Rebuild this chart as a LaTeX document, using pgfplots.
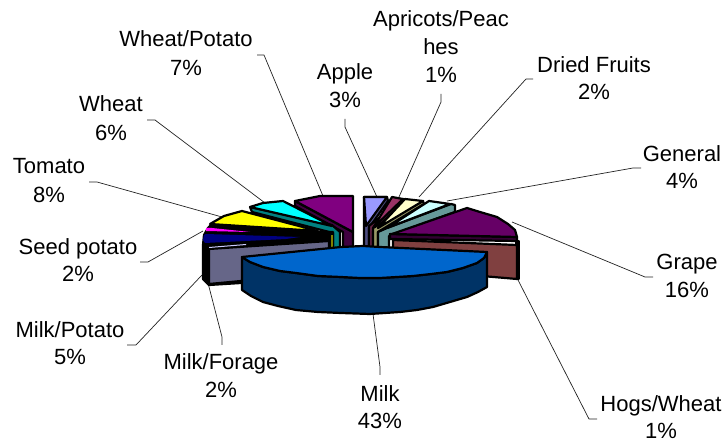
\documentclass[border=0pt]{standalone}
\usepackage{pgfplots}
\usepackage{fontspec}
\setmainfont{Liberation Sans}
\pgfplotsset{compat=1.18}
\definecolor{wpTop}{HTML}{800080}
\definecolor{wpSide}{HTML}{400040}
\definecolor{appleTop}{HTML}{9999FF}
\definecolor{appleSide}{HTML}{4D4D80}
\definecolor{apriTop}{HTML}{993366}
\definecolor{apriSide}{HTML}{662244}
\definecolor{driedTop}{HTML}{FFFFCC}
\definecolor{driedSide}{HTML}{999966}
\definecolor{genTop}{HTML}{CCFFFF}
\definecolor{genSide}{HTML}{669999}
\definecolor{wheatTop}{HTML}{00FFFF}
\definecolor{wheatSide}{HTML}{008080}
\definecolor{tomatoTop}{HTML}{FFFF00}
\definecolor{tomatoSide}{HTML}{808000}
\definecolor{seedTop}{HTML}{FF00FF}
\definecolor{potatoTop}{HTML}{000080}
\definecolor{grapeTop}{HTML}{660066}
\definecolor{grapeSide}{HTML}{330033}
\definecolor{hogs}{HTML}{804040}
\definecolor{forage}{HTML}{666688}
\definecolor{forageEdge}{HTML}{CCCCFF}
\definecolor{milkTop}{HTML}{0066CC}
\definecolor{milkSide}{HTML}{003366}
\definecolor{leader}{HTML}{222222}
% one label line, centred on x with its baseline at y
\newcommand{\lab}[3]{\node[anchor=base,inner sep=0pt] at (axis cs:#1,#2) {#3};}
\begin{document}
\begin{tikzpicture}
\begin{axis}[
  scale only axis, width=724pt, height=443pt,
  xmin=0, xmax=724, ymin=0, ymax=443, y dir=reverse,
  hide axis, clip=false,
  every axis plot/.append style={no markers, line join=round, line width=2.2pt, draw=black},
  leadline/.style={line width=0.7pt, draw=leader, fill=none},
]
\path (axis cs:0,0) rectangle (axis cs:724,443);
% leader lines
\addplot[leadline] coordinates {(345,119) (345,127) (377,197)};
\addplot[leadline] coordinates {(441,94) (441,102) (399,197)};
\addplot[leadline] coordinates {(533,79) (526,79) (419,197)};
\addplot[leadline] coordinates {(641,168) (633,168) (447,201)};
\addplot[leadline] coordinates {(653,277) (645,277) (512,222)};
\addplot[leadline] coordinates {(597,419) (589,419) (518,280)};
\addplot[leadline] coordinates {(380,375) (380,367) (373,314)};
\addplot[leadline] coordinates {(222,345) (222,337) (208,283)};
\addplot[leadline] coordinates {(127,345) (136,345) (202,275)};
\addplot[leadline] coordinates {(140,262) (148,262) (203,231)};
\addplot[leadline] coordinates {(89,182) (97,182) (222,217)};
\addplot[leadline] coordinates {(147,120) (155,120) (265,203)};
\addplot[leadline] coordinates {(257,55) (264,55) (323,196)};
% Wheat/Potato
\addplot[fill=wpSide] coordinates {(295,201) (295,206) (343,232) (343,250) (353,250) (353,232)} -- cycle;
\addplot[fill=wpTop] coordinates {(295,201) (320,196) (353,196) (353,232)} -- cycle;
% Apple
\addplot[fill=appleSide] coordinates {(387,197) (388,201) (369,228) (369,250) (364,250) (364,197)} -- cycle;
\addplot[fill=appleTop] coordinates {(364,197) (387,197) (366,226)} -- cycle;
% Apricots/Peaches
\addplot[fill=apriSide] coordinates {(403,199) (404,202) (373,231) (373,250) (369,250) (369,226)} -- cycle;
\addplot[fill=apriTop] coordinates {(392,197) (403,199) (373,228)} -- cycle;
% Dried Fruits
\addplot[fill=driedSide] coordinates {(423,201) (424,204) (378,232) (378,250) (373,250) (373,228)} -- cycle;
\addplot[fill=driedTop] coordinates {(405,199) (423,201) (378,228)} -- cycle;
% General
\addplot[fill=genSide] coordinates {(451,204) (455,205) (455,212) (389,236) (389,250) (378,250) (378,232) (387,228)} -- cycle;
\addplot[fill=genTop] coordinates {(429,201) (450,204) (387,228)} -- cycle;
% Wheat
\addplot[fill=wheatSide] coordinates {(250,207) (252,212) (333,233) (333,250) (340,250) (340,232) (332,225)} -- cycle;
\addplot[fill=wheatTop] coordinates {(250,207) (263,203) (283,201) (332,226)} -- cycle;
% Tomato, Seed potato and Milk/Potato, packed tightly with dark sides
\addplot[fill=black] coordinates {(213,223) (208,228) (204,235) (203,245) (203,279) (209,285) (241,283) (329,250) (333,250) (333,232) (318,232)} -- cycle;
\addplot[draw=none, fill=tomatoSide] coordinates {(331,235) (333,235) (333,248) (331,248)} -- cycle;
\addplot[fill=tomatoTop] coordinates {(210,224) (224,216) (242,211) (318,231)} -- cycle;
\addplot[draw=none, fill=seedTop] coordinates {(206,228) (212,228) (250,232) (206,231)} -- cycle;
\addplot[draw=none, fill=potatoTop] coordinates {(206,234) (300,237) (286,239) (205,243) (203,240) (204,235)} -- cycle;
% Milk/Forage
\addplot[fill=forage] coordinates {(209,249) (329,241) (329,260) (241,281) (209,284)} -- cycle;
\addplot[draw=none, fill=forageEdge] coordinates {(209,247) (246,244) (246,245) (209,248)} -- cycle;
% Grape
\addplot[fill=grapeSide] coordinates {(390,234) (517,237) (517,241) (390,239)} -- cycle;
\addplot[fill=grapeTop] coordinates {(392,234) (467,208) (480,212) (497,217) (508,224) (515,230) (517,237)} -- cycle;
% Hogs/Wheat
\addplot[fill=black] coordinates {(516,241) (519,241) (519,279) (516,279)} -- cycle;
\addplot[fill=hogs] coordinates {(393,240) (517,245) (517,279) (470,275) (393,250)} -- cycle;
% Milk
\addplot[fill=milkSide] coordinates {(242,257) (250,262) (263,267) (280,271) (296,273) (318,276) (341,277) (360,278) (380,278) (397,277) (413,276) (431,274) (447,272) (463,268) (477,263) (484,258) (487,252) (487,287) (478,292) (467,297) (450,302) (433,307) (417,310) (400,312) (385,313) (370,314) (341,313) (318,312) (296,310) (278,306) (263,302) (251,296) (242,290)} -- cycle;
\addplot[fill=milkTop] coordinates {(242,257) (341,247) (363,246) (380,247) (487,252) (484,258) (477,263) (463,268) (447,272) (431,274) (413,276) (397,277) (380,278) (360,278) (341,277) (318,276) (296,273) (280,271) (263,267) (250,262)} -- cycle;
% labels
\fontsize{22}{26}\selectfont
\lab{441}{27}{Apricots/Peac}
\lab{441}{55}{hes}
\lab{441}{83}{1\%}
\lab{345}{80}{Apple}
\lab{345}{108}{3\%}
\lab{594}{73}{Dried Fruits}
\lab{594}{100}{2\%}
\lab{682}{162}{General}
\lab{682}{189}{4\%}
\lab{186}{47}{Wheat/Potato}
\lab{186}{76}{7\%}
\lab{111}{112}{Wheat}
\lab{111}{141}{6\%}
\lab{49}{174}{Tomato}
\lab{49}{203}{8\%}
\lab{78}{255}{Seed potato}
\lab{78}{282}{2\%}
\lab{70}{338}{Milk/Potato}
\lab{70}{365}{5\%}
\lab{221}{370}{Milk/Forage}
\lab{221}{398}{2\%}
\lab{380}{402}{Milk}
\lab{380}{429}{43\%}
\lab{687}{270}{Grape}
\lab{687}{298}{16\%}
\lab{661}{412}{Hogs/Wheat}
\lab{661}{439}{1\%}
\end{axis}
\end{tikzpicture}
\end{document}
